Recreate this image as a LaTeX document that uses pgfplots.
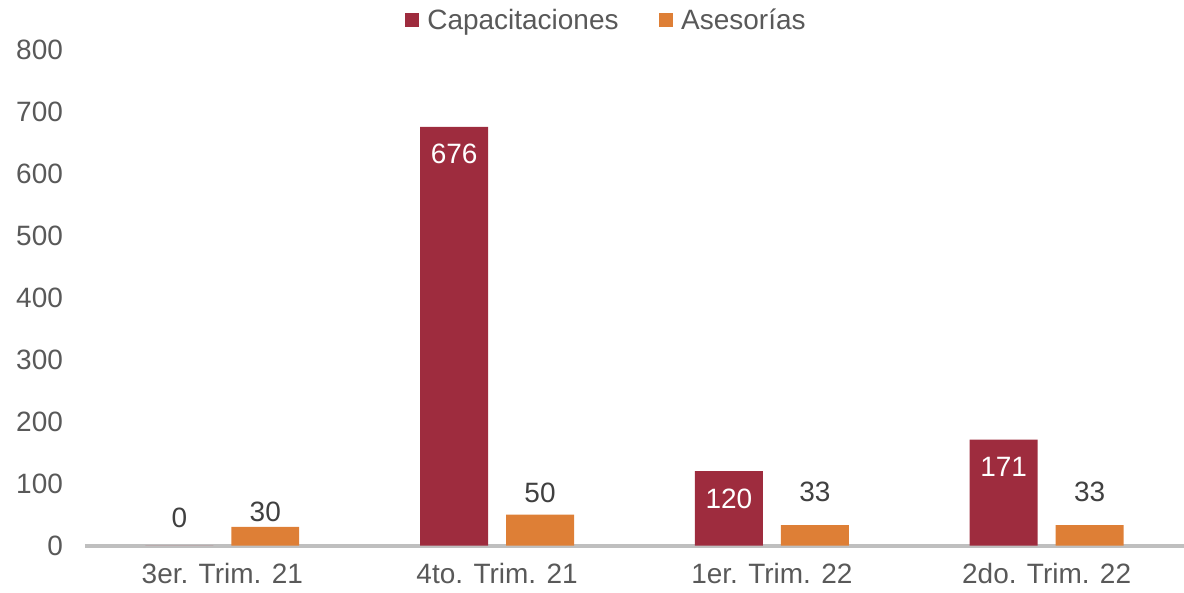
\documentclass[border=0pt]{standalone}
\usepackage{fontspec}
\setmainfont{Liberation Sans}
\usepackage{pgfplots}
\usepackage{pgfplotstable}
\pgfplotsset{compat=1.18}

\definecolor{capred}{RGB}{158,44,62}
\definecolor{aseorange}{RGB}{222,127,54}
\definecolor{txtgray}{RGB}{89,89,89}
\definecolor{lblgray}{RGB}{64,64,64}
\definecolor{axgray}{RGB}{191,191,191}

% values per quarter; asedy = extra lift of the label above the orange bar (pt)
\pgfplotstableread{
x cap ase asedy
0 0   30  0
1 676 50  5
2 120 33  14
3 171 33  14
}\datatable

\newcommand{\bigfont}{\fontsize{21}{25}\selectfont}

\begin{document}
\begin{tikzpicture}
\begin{axis}[
    scale only axis,
    width=825pt, height=372pt,
    xmin=-0.5, xmax=3.5,
    ymin=0, ymax=800,
    clip=false,
    xtick={0,1,2,3},
    xticklabels={3er. Trim. 21, 4to. Trim. 21, 1er. Trim. 22, 2do. Trim. 22},
    ytick={0,100,...,800},
    major tick length=0pt,
    tick style={draw=none},
    separate axis lines,
    axis x line*=bottom,
    axis y line*=left,
    x axis line style={draw=axgray, line width=3pt},
    y axis line style={draw=none},
    tick label style={font=\bigfont, text=txtgray},
    yticklabel style={xshift=-13pt},
    xticklabel style={yshift=-10pt},
    /pgf/number format/assume math mode=true,
    every node near coord/.append style={font=\bigfont},
    legend columns=2,
    legend style={draw=none, fill=none, at={(0.5,1)}, anchor=center,
        xshift=-21pt, yshift=22.5pt, font=\bigfont, text=txtgray, inner sep=0pt,
        /tikz/every odd column/.append style={column sep=4pt},
        /tikz/every even column/.append style={column sep=28pt}},
]
\addplot[ybar, fill=capred, draw=none, bar width=51pt, bar shift=-32.25pt,
    legend image code/.code={\fill[capred] (0pt,-5.5pt) rectangle (11pt,5.5pt);}]
    table[x=x, y=cap] {\datatable};
\addlegendentry{Capacitaciones}

\addplot[ybar, fill=aseorange, draw=none, bar width=51pt, bar shift=32.25pt,
    legend image code/.code={\fill[aseorange] (0pt,-5.5pt) rectangle (11pt,5.5pt);},
    nodes near coords,
    visualization depends on={\thisrow{asedy} \as \dy},
    nodes near coords style={text=lblgray, xshift=32.25pt, yshift=\dy pt}]
    table[x=x, y=ase] {\datatable};
\addlegendentry{Asesorías}

% labels inside the red bars
\addplot[ybar, forget plot, draw=none, fill=none, bar width=51pt, bar shift=-32.25pt,
    skip coords between index={0}{1},
    nodes near coords,
    nodes near coords style={anchor=north, xshift=-32.25pt, yshift=-9.5pt, text=white}]
    table[x=x, y=cap] {\datatable};

% the zero label sits above the axis
\addplot[ybar, forget plot, draw=none, fill=none, bar width=51pt, bar shift=-32.25pt,
    skip coords between index={1}{4},
    nodes near coords,
    nodes near coords style={anchor=south, xshift=-32.25pt, yshift=9.5pt, text=lblgray}]
    table[x=x, y=cap] {\datatable};
\end{axis}
\pgfresetboundingbox
\path ([xshift=-63.75pt, yshift=-35.6pt]current axis.south west)
    rectangle ([yshift=37.5pt]current axis.north east);
\end{tikzpicture}
\end{document}
